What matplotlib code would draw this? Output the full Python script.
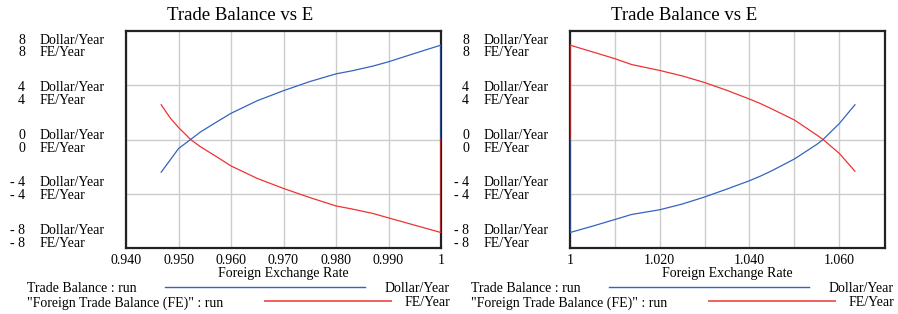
import matplotlib
matplotlib.use("Agg")
import matplotlib.pyplot as plt
from matplotlib.lines import Line2D

# ---------------- data ----------------
title = "Trade Balance vs E"
xlabel = "Foreign Exchange Rate"
ytick_values = [8, 4, 0, -4, -8]
unit_tb = "Dollar/Year"
unit_fe = "FE/Year"
legend_tb = "Trade Balance : run"
legend_fe = "\"Foreign Trade Balance (FE)\" : run"

left_E = [1.000, 1.000, 0.995, 0.990, 0.987, 0.983, 0.980, 0.975, 0.970, 0.965,
          0.960, 0.9573, 0.9542, 0.9523, 0.950, 0.9484, 0.9467]
left_TB = [0.0, 6.96, 6.35, 5.73, 5.41, 5.06, 4.84, 4.27, 3.60, 2.86,
           1.93, 1.30, 0.56, 0.0, -0.67, -1.52, -2.41]
left_FE = [0.0, -6.86, -6.32, -5.78, -5.45, -5.12, -4.90, -4.28, -3.61, -2.87,
           -1.95, -1.28, -0.54, 0.0, 0.89, 1.60, 2.56]
left_xticks = [0.94, 0.95, 0.96, 0.97, 0.98, 0.99, 1.00]
left_xticklabels = ["0.940", "0.950", "0.960", "0.970", "0.980", "0.990", "1"]
left_xlim = (0.94, 1.00)

right_E = [1.000, 1.000, 1.005, 1.010, 1.0137, 1.020, 1.025, 1.030, 1.035, 1.040,
           1.0423, 1.045, 1.050, 1.055, 1.0564, 1.060, 1.0635]
right_TB = [0.0, -6.86, -6.39, -5.90, -5.53, -5.18, -4.76, -4.24, -3.65, -3.04,
            -2.72, -2.30, -1.44, -0.36, 0.0, 1.17, 2.56]
right_FE = [0.0, 6.96, 6.46, 5.96, 5.53, 5.09, 4.69, 4.20, 3.62, 2.98,
            2.67, 2.25, 1.44, 0.33, 0.0, -1.02, -2.34]
right_xticks = [1.00, 1.01, 1.02, 1.03, 1.04, 1.05, 1.06]
right_xticklabels = ["1", "", "1.020", "", "1.040", "", "1.060"]
right_xlim = (1.00, 1.0702)

# ---------------- style ----------------
W, H = 898, 314
BLUE = "#3563c0"
RED = "#f03232"
GRID = "#cccccc"
FONT = "Liberation Serif"
plt.rcParams["font.family"] = [FONT, "DejaVu Serif"]

fig = plt.figure(figsize=(W / 100, H / 100), dpi=100)


def fx(px):
    return px / W


def fy(py):
    return 1 - py / H


def panel(left_px, E, TB, FE, xticks, xticklabels, xlim):
    top, bottom, width = 31, 248, 315
    ax = fig.add_axes([fx(left_px), fy(bottom), fx(width), (bottom - top) / H])
    ax.set_xlim(*xlim)
    ax.set_ylim(-8, 8)
    ax.set_xticks(xticks)
    ax.set_xticklabels(xticklabels, fontsize=10)
    ax.set_yticks([4, 0, -4])
    ax.set_yticklabels([])
    ax.tick_params(length=0, pad=4)
    ax.grid(True, color=GRID, linewidth=1.0)
    ax.set_axisbelow(True)
    for s in ax.spines.values():
        s.set_linewidth(1.6)
        s.set_color("#222222")
    ax.plot(E, FE, color=RED, linewidth=0.9, zorder=3)
    ax.plot(E, TB, color=BLUE, linewidth=0.9, zorder=3)
    ax.set_xlabel(xlabel, fontsize=10, labelpad=0)

    # title
    cx = left_px + width / 2 - 43
    fig.text(fx(cx), fy(16), title, ha="center", va="center", fontsize=13.5)

    # y tick labels (two lines per tick, spread evenly)
    for i, v in enumerate(ytick_values):
        c = top + 15.5 + i * 47.6
        for dy, unit in ((-6.5, unit_tb), (6.5, unit_fe)):
            fig.text(fx(left_px - 101), fy(c + dy), f"{v}".replace("-", "- "),
                     ha="right", va="center", fontsize=10)
            fig.text(fx(left_px - 86), fy(c + dy), unit,
                     ha="left", va="center", fontsize=10)

    # legend
    right_px = left_px + width
    rows = [(289, legend_tb, BLUE, 1.0, 39, 239, unit_tb),
            (303, legend_fe, "#f06060", 1.4, 139, 265, unit_fe)]
    for y, label, col, lw, x0, x1, unit in rows:
        fig.text(fx(left_px - 99), fy(y), label, ha="left", va="center", fontsize=10)
        fig.add_artist(Line2D([fx(left_px + x0), fx(left_px + x1)],
                              [fy(y - 2), fy(y - 2)], color=col, linewidth=lw,
                              transform=fig.transFigure))
        fig.text(fx(right_px + 9), fy(y), unit, ha="right", va="center", fontsize=10)
    return ax


panel(126, left_E, left_TB, left_FE, left_xticks, left_xticklabels, left_xlim)
panel(570, right_E, right_TB, right_FE, right_xticks, right_xticklabels, right_xlim)

fig.savefig("out.png", dpi=100)
